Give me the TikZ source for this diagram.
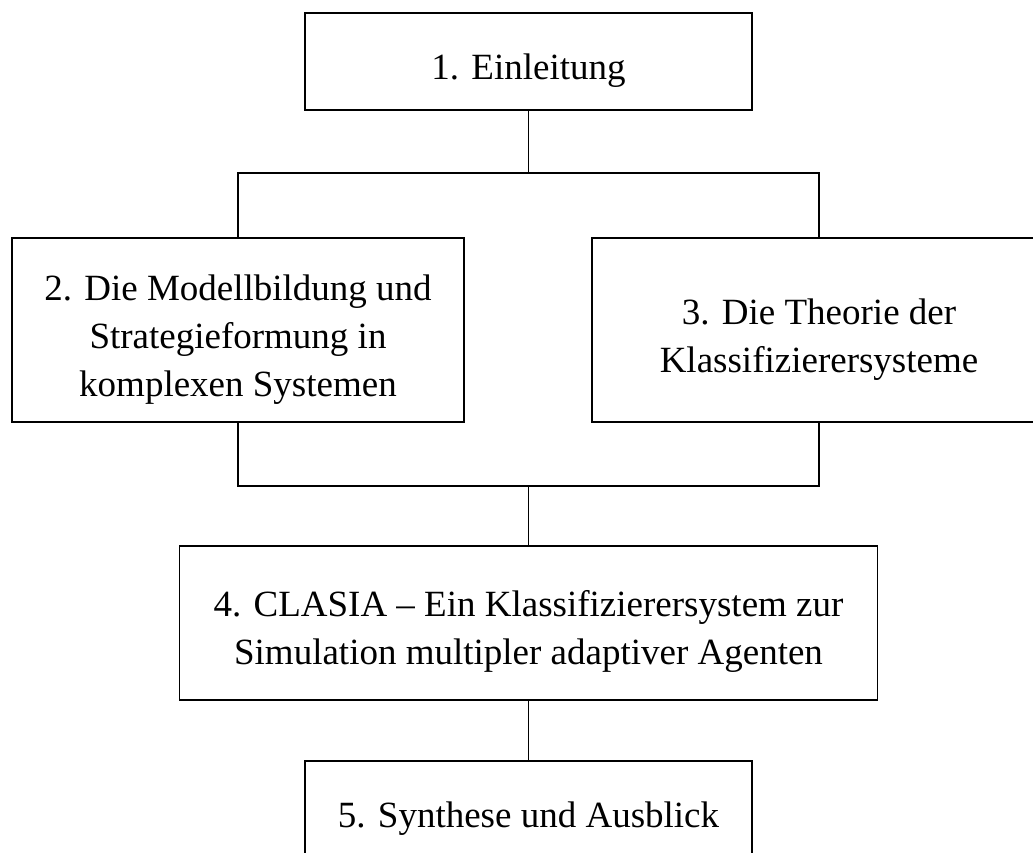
\documentclass[tikz,border=0pt]{standalone}
\usepackage{fontspec}
\setmainfont{Liberation Serif}
\begin{document}
\begin{tikzpicture}[x=1pt,y=-1pt,line width=1.8pt,
  box/.style={draw,rectangle,inner sep=0pt},
  lbl/.style={align=center,font=\fontsize{37}{48}\selectfont,inner sep=0pt}]
\useasboundingbox (0,0) rectangle (1033,852);
\clip (0,0) rectangle (1033,852);
% boxes
\node[box,minimum width=447pt,minimum height=97pt]  (b1) at (528.5,61.5) {};
\node[box,minimum width=452pt,minimum height=184pt] (b2) at (238,330) {};
\node[box,minimum width=454pt,minimum height=184pt] (b3) at (819,330) {};
\node[box,minimum width=698pt,minimum height=154pt] (b4) at (528.5,623) {};
\node[box,minimum width=447pt,minimum height=97pt]  (b5) at (528.5,809.5) {};
% texts
\node[lbl] (t1) at ([yshift=-9pt]b1.center) {1. Einleitung};
\node[lbl] (t2) at ([yshift=-10pt]b2.center) {2. Die Modellbildung und\\Strategieformung in\\komplexen Systemen};
\node[lbl] (t3) at ([yshift=-10pt]b3.center) {3. Die Theorie der\\Klassifizierersysteme};
\node[lbl] (t4) at ([yshift=-8pt]b4.center) {4. CLASIA -- Ein Klassifizierersystem zur\\Simulation multipler adaptiver Agenten};
\node[lbl] (t5) at ([yshift=-9pt]b5.center) {5. Synthese und Ausblick};
% connectors
\coordinate (jt) at (528.5,173);
\coordinate (jb) at (528.5,486);
\draw (b1.south) -- (jt);
\draw (b2.north) |- (jt) -| (b3.north);
\draw (b2.south) |- (jb) -| (b3.south);
\draw (jb) -- (b4.north);
\draw (b4.south) -- (b5.north);
\end{tikzpicture}
\end{document}
